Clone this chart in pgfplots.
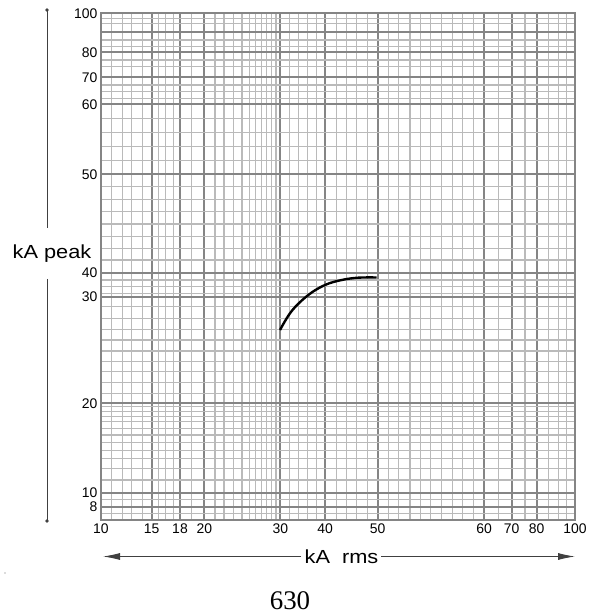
\documentclass[border=0pt]{standalone}
\usepackage{pgfplots}
\pgfplotsset{compat=1.18}
\usetikzlibrary{arrows.meta}
\usepackage{fontspec}
\setmainfont{Liberation Sans}
\newfontfamily\serifnum{Liberation Serif}
\definecolor{gridmajor}{HTML}{858585}
\definecolor{gridminor}{HTML}{BABABA}
\definecolor{arrowgray}{HTML}{404040}

\begin{document}
\begin{tikzpicture}[x=1bp,y=1bp]
  \path[use as bounding box] (0,0) rectangle (592,616);

  % graph paper: axis units are positions on the printed scale
  \begin{axis}[
      at={(101bp,96bp)},
      anchor=south west,
      scale only axis,
      width=474bp,
      height=506.7bp,
      xmin=0, xmax=474,
      ymin=0, ymax=506.7,
      xtick={0,50.7,79,103.3,179.3,224,276.7,383,410.7,435.7,474},
      xticklabels={10,15,18,20,30,40,50,60,70,80,100},
      ytick={13.3,27.3,116.7,223,247.3,345.7,415.7,442.7,467.7,488.3,506.7},
      yticklabels={8,10,20,30,40,50,60,70,80,,100},
      minor xtick={10.7,21.7,30.7,41.7,57.3,64.7,72.3,90.7,114,123,132.3,141,
                   148.3,154.7,160.7,165.7,170.7,175,188.5,197.5,206.5,215.5,
                   235.7,245.7,255.7,266.3,287.3,297.3,309,319.7,329.7,340.7,
                   351.3,361.7,372.3,397.3,424,447.3,457.3,465.7},
      minor ytick={501.7,496.7,480,473.3,460,453.3,435,428.3,421.7,401.7,387.3,
                   373.3,359.3,333.3,320.7,308.3,296,283.3,271.7,260,240,233.3,
                   226.7,213.3,201.7,190.7,180,169,158.3,148.3,137.3,126.7,
                   113.3,108.3,103.3,98.3,91.7,85,77.3,69.3,61.7,51.7,40,20.7,6.7},
      grid=both,
      major grid style={gridmajor, line width=1.8bp},
      minor grid style={gridminor, line width=1.2bp},
      major tick length=0pt,
      minor tick length=0pt,
      axis line style={gridmajor, line width=1.8bp},
      tick label style={font=\fontsize{14}{16}\selectfont, text=black},
      /pgf/number format/assume math mode=true,
  ]
    \addplot[black, line width=2.4bp, smooth, tension=0.6] coordinates {
      (179,190) (190.7,209) (207.3,225) (224,235) (240.7,240)
      (257.3,242.3) (275.7,242.5)
    };
  \end{axis}

  % vertical axis title with its rule
  \draw[arrowgray, line width=0.9bp] (47,606) -- (47,388);
  \draw[arrowgray, line width=0.9bp] (47,337) -- (47,95);
  \fill[arrowgray] (47,606) circle (1.8);
  \fill[arrowgray] (47,95) circle (1.8);
  \node[font=\fontsize{19}{22}\selectfont, inner sep=0pt] at (52,362) {\scalebox{1.15}[1]{kA peak}};

  % horizontal axis title with its arrow
  \draw[arrowgray, line width=0.9bp, -{Latex[length=17bp,width=7bp]}] (301,59.5) -- (103,59.5);
  \draw[arrowgray, line width=0.9bp, -{Latex[length=17bp,width=7bp]}] (381,59.5) -- (575,59.5);
  \node[font=\fontsize{19}{22}\selectfont, inner sep=0pt] at (341.5,59) {\scalebox{1.15}[1]{kA\ \ rms}};

  \node[font=\serifnum\fontsize{27}{30}\selectfont, inner sep=0pt] at (290,15) {630};
  \fill[black!60] (5,43) circle (0.6);
\end{tikzpicture}
\end{document}
